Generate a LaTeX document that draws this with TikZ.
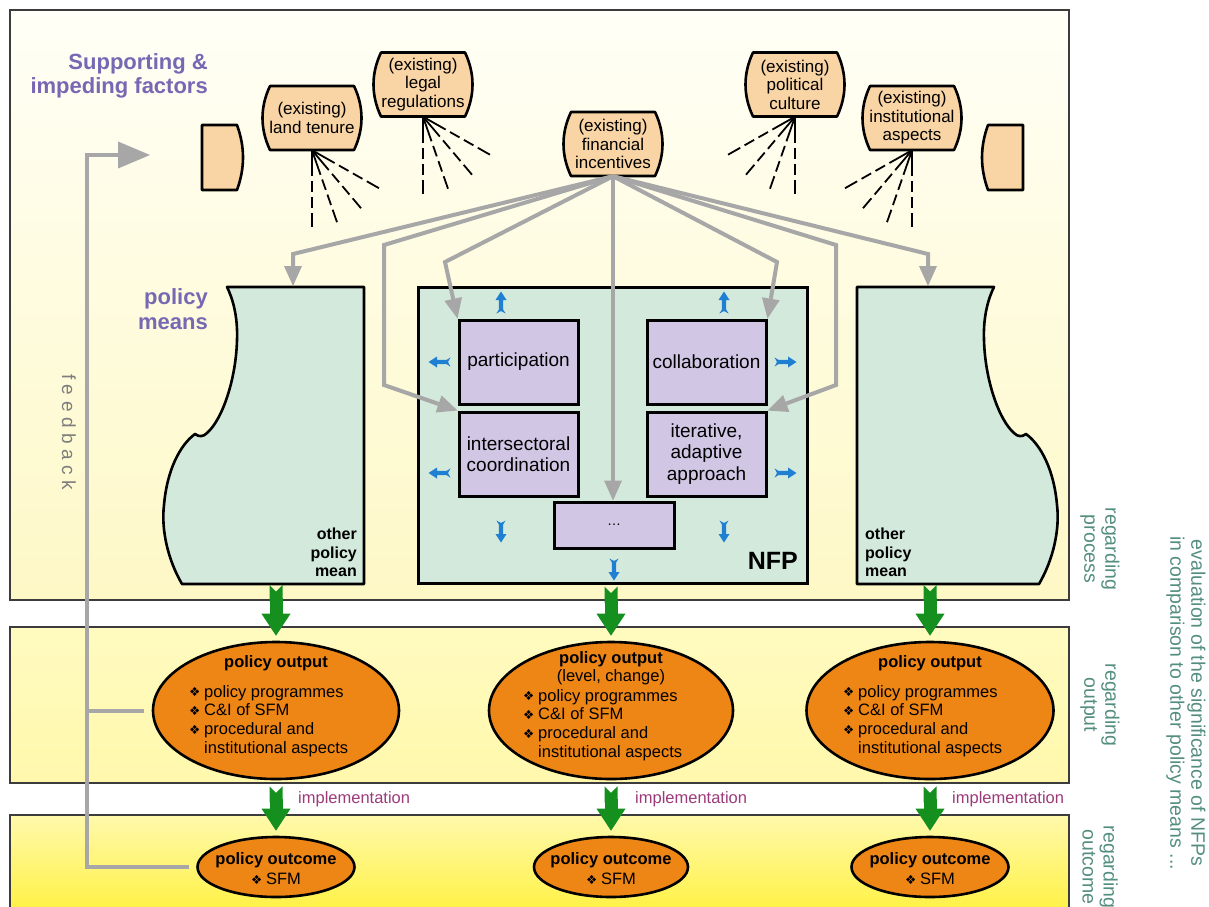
\documentclass[tikz,border=0pt]{standalone}
\usepackage{fontspec}
\setmainfont{Liberation Sans}
\newfontfamily\symfont{DejaVu Sans}
\usetikzlibrary{arrows.meta,shapes.geometric}

\definecolor{paneltop}{HTML}{FFFFF7}
\definecolor{panelmid}{HTML}{FEF8C6}
\definecolor{bandtop}{HTML}{FFFBC0}
\definecolor{bandbot}{HTML}{FFF8AC}
\definecolor{basetop}{HTML}{FFF9AC}
\definecolor{basebot}{HTML}{FFF030}
\definecolor{panelline}{HTML}{3C3C3C}
\definecolor{peach}{HTML}{F9D4A4}
\definecolor{mint}{HTML}{D3E9DB}
\definecolor{lavender}{HTML}{D1C7E5}
\definecolor{orangefill}{HTML}{EE8616}
\definecolor{linkgray}{HTML}{A7A7A7}
\definecolor{flowblue}{HTML}{1F7FD3}
\definecolor{flowgreen}{HTML}{15901F}
\definecolor{headpurple}{HTML}{7668B3}
\definecolor{evalteal}{HTML}{548E80}
\definecolor{implmauve}{HTML}{9C3A7A}
\definecolor{fbgray}{HTML}{7E7E7E}

% bullet used in the ellipse lists
\newcommand\bul{\makebox[15pt][l]{\raisebox{0.5pt}{\symfont\fontsize{12.5}{12.5}\selectfont ❖}}}
\newcommand\bulskip{\hspace*{15pt}}

% barrel-shaped factor box with its text node
\newcommand\factorbox[4]{%
  \begin{scope}[shift={(#2,#3)}]
    \draw[factorline] (-42,-32) -- (42,-32) .. controls (52,-11) and (52,11) .. (42,32)
      -- (-42,32) .. controls (-52,11) and (-52,-11) .. (-42,-32) -- cycle;
  \end{scope}
  \node[factortext] (#1) at (#2,#3) {#4};}

\begin{document}
\begin{tikzpicture}[x=1pt,y=-1pt,
  panelbox/.style={draw=panelline,line width=1.3pt},
  factorline/.style={draw=black,line width=2.6pt,fill=peach,line join=round},
  factortext/.style={minimum width=84pt,minimum height=64pt,inner sep=0pt,align=center,font=\fontsize{17}{18.5}\selectfont},
  raystyle/.style={line width=1.8pt,dash pattern=on 26pt off 5pt on 11pt off 5pt on 11pt off 5pt on 14pt},
  graylink/.style={draw=linkgray,line width=4pt,-{Triangle[length=20pt,width=18pt,line width=0pt]}},
  meanshape/.style={draw=black,line width=2.6pt,fill=mint,line join=round},
  meanlabel/.style={font=\bfseries\fontsize{16}{18.5}\selectfont,inner sep=0pt},
  headline/.style={font=\bfseries\fontsize{22}{24.5}\selectfont,text=headpurple,align=right,inner sep=0pt},
  nfpframe/.style={draw=black,line width=3pt,fill=mint,minimum width=389pt,minimum height=296pt,inner sep=0pt},
  innerbox/.style={draw=black,line width=3pt,fill=lavender,minimum width=119pt,minimum height=84pt,inner sep=0pt,align=center,font=\fontsize{19}{21.5}\selectfont},
  greenarrow/.style={draw=flowgreen,line width=13pt,{Triangle Cap[reversed]}-{Triangle[length=22pt,width=29pt,line width=0pt]}},
  outellipse/.style={ellipse,draw=black,line width=2.6pt,fill=orangefill,inner sep=0pt},
  elltitle/.style={font=\bfseries\fontsize{16.5}{18}\selectfont,align=center,inner sep=0pt},
  elllist/.style={font=\fontsize{16.5}{18.7}\selectfont,align=left,inner sep=0pt,anchor=west},
  impltext/.style={font=\fontsize{16.5}{18}\selectfont,text=implmauve,anchor=west,inner sep=0pt},
  evaltext/.style={font=\fontsize{19.5}{21}\selectfont,text=evalteal,align=center,rotate=-90,inner sep=0pt},
  % small swallow-tailed arrow, pointing along +x before rotation
  fishtail/.pic={\fill[flowblue] (11,0) -- (2.5,-5.5) -- (2.5,-2.1) -- (-7,-2.1) -- (-11,-4.6) -- (-8.5,0)
      -- (-11,4.6) -- (-7,2.1) -- (2.5,2.1) -- (2.5,5.5) -- cycle;},
]
\useasboundingbox (0,0) rectangle (1209,906);
\clip (0,0) rectangle (1209,906);

% ---- background panels ----
\fill[top color=paneltop,bottom color=panelmid] (10,10) rectangle (1069,600);
\draw[panelbox] (10,10) rectangle (1069,600);
\fill[top color=bandtop,bottom color=bandbot] (10,627) rectangle (1069,783);
\draw[panelbox] (10,627) rectangle (1069,783);
\fill[top color=basetop,bottom color=basebot] (10,815) rectangle (1069,930);
\draw[panelbox] (10,815) rectangle (1069,930);

% ---- headings ----
\node[headline,anchor=east] (hdfactors) at (208,76) {Supporting \&\\impeding factors};
\node[headline,anchor=east] (hdmeans) at (208,309) {policy\\means};

% ---- other policy means ----
\draw[meanshape] (227,287) -- (364,287) -- (364,584) -- (182,584)
  .. controls (168,560) and (161,530) .. (164,505)
  .. controls (167,470) and (180,445) .. (195,434)
  .. controls (199,437) and (203,437) .. (207,433)
  .. controls (222,420) and (236,380) .. (237,340)
  .. controls (238,315) and (232,297) .. (227,287) -- cycle;
\begin{scope}[xshift=1221pt,xscale=-1]
\draw[meanshape] (227,287) -- (364,287) -- (364,584) -- (182,584)
  .. controls (168,560) and (161,530) .. (164,505)
  .. controls (167,470) and (180,445) .. (195,434)
  .. controls (199,437) and (203,437) .. (207,433)
  .. controls (222,420) and (236,380) .. (237,340)
  .. controls (238,315) and (232,297) .. (227,287) -- cycle;
\end{scope}
\node[meanlabel,align=right,anchor=south east] (pmLtxt) at (357,577) {other\\policy\\mean};
\node[meanlabel,align=left,anchor=south west] (pmRtxt) at (865,577) {other\\policy\\mean};

% ---- NFP ----
\node[nfpframe] (nfp) at (612.5,435) {};
\node[font=\bfseries\fontsize{25}{25}\selectfont,anchor=south east,inner sep=0pt] (nfplabel) at (798,570) {NFP};
\node[innerbox] (part) at (518.5,362) {participation};
\node[innerbox] (coll) at (706.5,362) {collaboration};
\node[innerbox] (inter) at (518.5,454) {intersectoral\\coordination};
\node[innerbox] (iter) at (706.5,454) {iterative,\\adaptive\\approach};
\node[innerbox,minimum width=120pt,minimum height=46pt] (dots) at (614,525) {\fontsize{14}{14}\selectfont\dots};

% ---- factors ----
\draw[factorline] (202,125) -- (237,125) .. controls (245,147) and (245,168) .. (237,190) -- (202,190) -- cycle;
\draw[factorline] (1023,125) -- (988,125) .. controls (980,147) and (980,168) .. (988,190) -- (1023,190) -- cycle;
\factorbox{land}{312}{118}{(existing)\\land tenure}
\factorbox{legal}{423}{84.5}{(existing)\\legal\\regulations}
\factorbox{fin}{613}{144}{(existing)\\financial\\incentives}
\factorbox{polcult}{795}{84.5}{(existing)\\political\\culture}
\factorbox{instasp}{912}{118}{(existing)\\institutional\\aspects}

\foreach \dx/\dy in {0/77,25/72,49/58,67/38} {
  \draw[raystyle] (land.south) -- ++(\dx,\dy);
  \draw[raystyle] (legal.south) -- ++(\dx,\dy);
  \draw[raystyle] (polcult.south) -- ++(-\dx,\dy);
  \draw[raystyle] (instasp.south) -- ++(-\dx,\dy);
}

% ---- influence of financial incentives ----
\coordinate (pmLin) at (293,286);
\coordinate (pmRin) at (928,286);
\draw[graylink] (fin.south) -- (293,254) -- (pmLin);
\draw[graylink] (fin.south) -- (384,245) -- (384,385) -- (inter.north west);
\draw[graylink] (fin.south) -- (445,262) -- (part.north west);
\draw[graylink] (fin.south) -- (fin.south |- dots.north);
\draw[graylink] (fin.south) -- (777,262) -- (coll.north east);
\draw[graylink] (fin.south) -- (836,245) -- (836,385) -- (iter.north east);
\draw[graylink] (fin.south) -- (928,254) -- (pmRin);

% ---- NFP outward effects ----
\pic[rotate=90]  at ([shift={(-17.5,-16)}]part.north) {fishtail};
\pic[rotate=90]  at ([shift={(17.5,-16)}]coll.north) {fishtail};
\pic[rotate=180] at ([shift={(-18,0)}]part.west) {fishtail};
\pic[rotate=180] at ([shift={(-18,19)}]inter.west) {fishtail};
\pic             at ([shift={(18,0)}]coll.east) {fishtail};
\pic             at ([shift={(18,19)}]iter.east) {fishtail};
\pic[rotate=-90] at ([shift={(-17.5,34)}]inter.south) {fishtail};
\pic[rotate=-90] at ([shift={(17.5,34)}]iter.south) {fishtail};
\pic[rotate=-90] at ([shift={(0,20)}]dots.south) {fishtail};

% ---- outputs ----
\node[outellipse,minimum width=246pt,minimum height=137pt] (outL) at (276,710.5) {};
\node[outellipse,minimum width=244pt,minimum height=137pt] (outC) at (611,710.5) {};
\node[outellipse,minimum width=247pt,minimum height=137pt] (outR) at (930,710.5) {};
\node[elltitle] (outLt) at (276,663) {policy output};
\node[elllist] (outLl) at (189,721) {\bul policy programmes\\\bul C\&I of SFM\\\bul procedural and\\\bulskip institutional aspects};
\node[elltitle] (outCt) at (611,668) {policy output\\{\mdseries(level, change)}};
\node[elllist] (outCl) at (523,725) {\bul policy programmes\\\bul C\&I of SFM\\\bul procedural and\\\bulskip institutional aspects};
\node[elltitle] (outRt) at (930,663) {policy output};
\node[elllist] (outRl) at (843,721) {\bul policy programmes\\\bul C\&I of SFM\\\bul procedural and\\\bulskip institutional aspects};

% ---- outcomes ----
\node[outellipse,minimum width=157pt,minimum height=60pt] (outcL) at (276,867) {};
\node[outellipse,minimum width=154pt,minimum height=60pt] (outcC) at (611,867) {};
\node[outellipse,minimum width=157pt,minimum height=60pt] (outcR) at (930,867) {};
\node[elltitle,font=\bfseries\fontsize{16.5}{20}\selectfont] (outcLt) at (276,869) {policy outcome\\{\mdseries\bul SFM}};
\node[elltitle,font=\bfseries\fontsize{16.5}{20}\selectfont] (outcCt) at (611,869) {policy outcome\\{\mdseries\bul SFM}};
\node[elltitle,font=\bfseries\fontsize{16.5}{20}\selectfont] (outcRt) at (930,869) {policy outcome\\{\mdseries\bul SFM}};

% ---- flows between levels ----
\coordinate (pmLbot) at (276,585);
\coordinate (pmRbot) at (930,585);
\draw[greenarrow,shorten >=5pt] (pmLbot) -- (outL.north);
\draw[greenarrow,shorten <=2pt,shorten >=5pt] (outC.north |- nfp.south) -- (outC.north);
\draw[greenarrow,shorten >=5pt] (pmRbot) -- (outR.north);
\draw[greenarrow,shorten <=6pt,shorten >=5pt] (outL.south) -- (outcL.north);
\draw[greenarrow,shorten <=6pt,shorten >=5pt] (outC.south) -- (outcC.north);
\draw[greenarrow,shorten <=6pt,shorten >=5pt] (outR.south) -- (outcR.north);
\node[impltext] (implL) at (298,799) {implementation};
\node[impltext] (implC) at (635,799) {implementation};
\node[impltext] (implR) at (952,799) {implementation};

% ---- feedback loop ----
\coordinate (fbCorner) at (87,155);
\coordinate (fbEnd) at (150,155);
\draw[draw=linkgray,line width=4pt,-{Triangle[length=32pt,width=27pt,line width=0pt]}]
  ([xshift=-7pt]outcL.west) -| (fbCorner) -- (fbEnd);
\draw[draw=linkgray,line width=4pt] ([xshift=-8pt]outL.west) -- (outL.west -| fbCorner);
\node[rotate=-90,text=fbgray,font=\fontsize{19}{19}\selectfont,inner sep=0pt] (fbtxt) at (69,432)
  {f\kern5.5pt e\kern5.5pt e\kern5.5pt d\kern5.5pt b\kern5.5pt a\kern5.5pt c\kern5.5pt k};

% ---- evaluation labels ----
\node[evaltext] (regproc) at (1100,549) {regarding\\process};
\node[evaltext] (regout) at (1100,705) {regarding\\output};
\node[evaltext] (regoutc) at (1100,867) {regarding\\outcome};
\node[evaltext] (evalall) at (1186,703) {evaluation of the significance of NFPs\\in comparison to other policy means ...};
\end{tikzpicture}
\end{document}
